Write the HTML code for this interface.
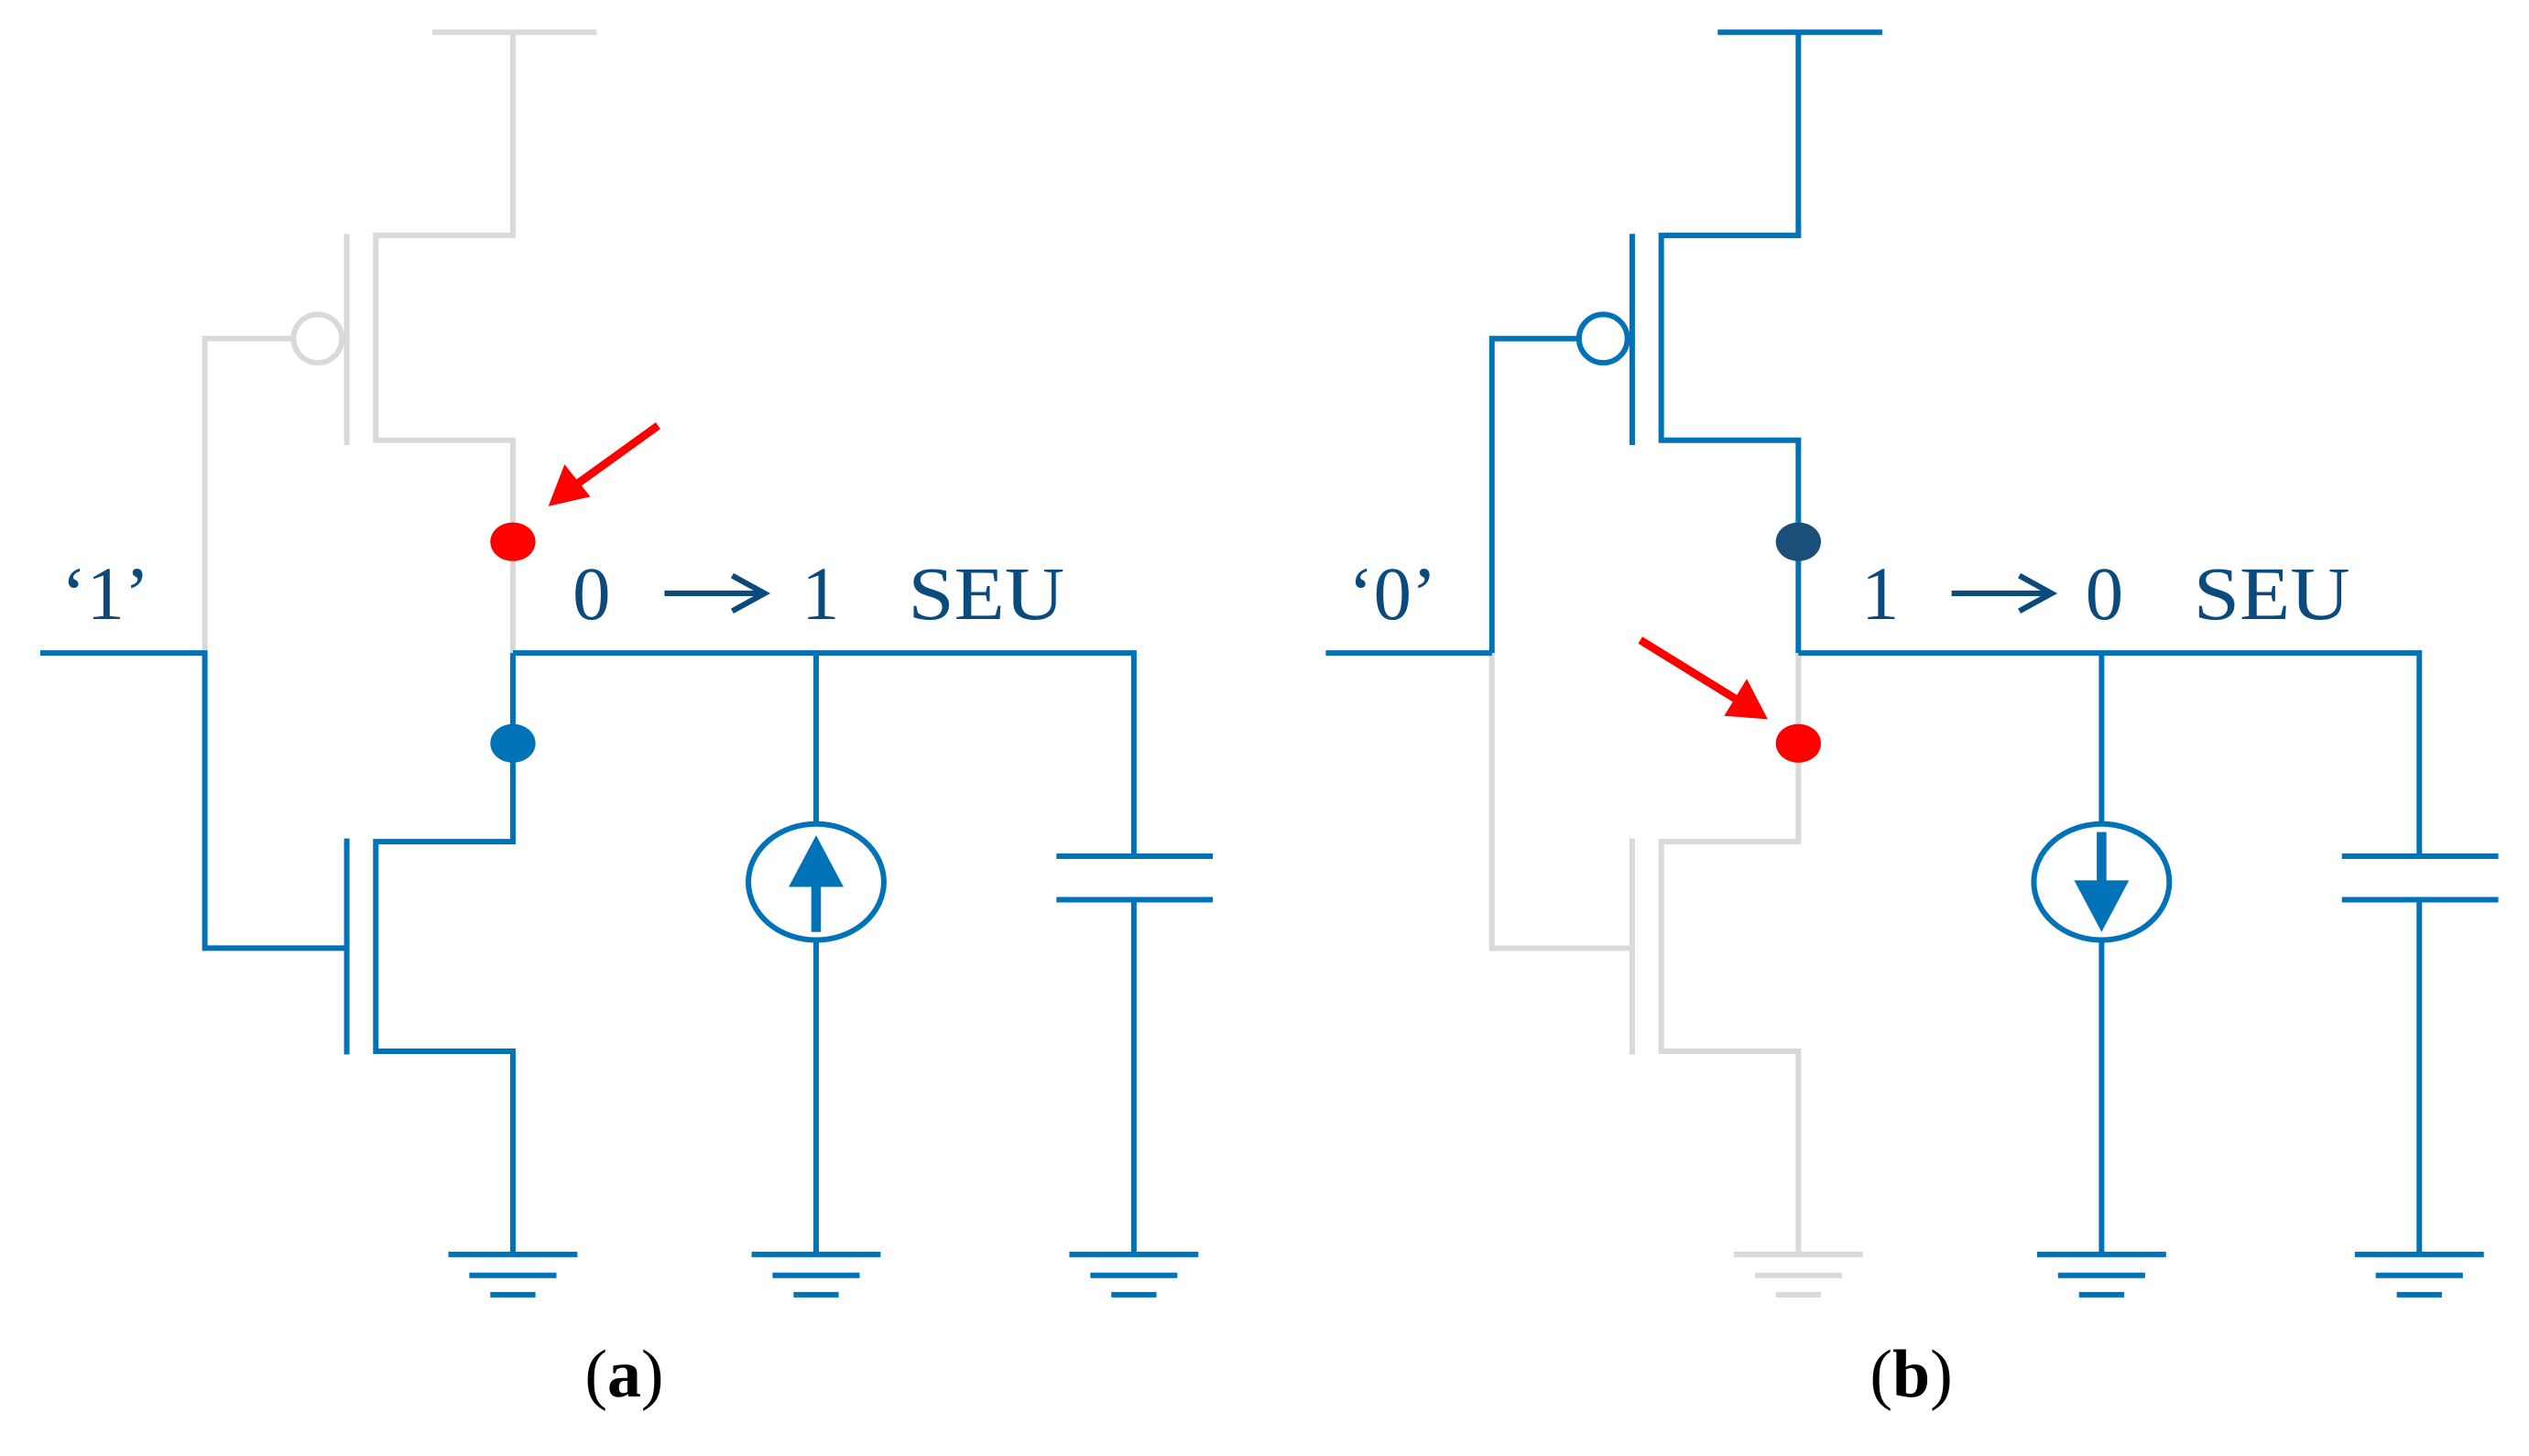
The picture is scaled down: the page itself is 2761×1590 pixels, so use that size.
<!DOCTYPE html>
<html><head><style>html,body{margin:0;padding:0;background:#fff;}svg{display:block;}</style></head>
<body>
<svg width="2761" height="1590" viewBox="0 0 1568 903" preserveAspectRatio="none" xmlns="http://www.w3.org/2000/svg">
<defs>
<g id="gnd"><line x1="-40" y1="0" x2="40" y2="0"/><line x1="-27" y1="13" x2="27" y2="13"/><line x1="-14" y1="25" x2="14" y2="25"/></g>
</defs>
<g fill="none" stroke-width="3.4">
<!-- Panel a -->
<g stroke="#d9d9d9">
<polyline points="268,20 370,20"/>
<polyline points="318,20 318,146 233,146 233,273 318,273 318,405"/>
<line x1="215" y1="145" x2="215" y2="276"/>
<circle cx="197" cy="210" r="15"/>
<polyline points="182,210 127,210 127,405"/>
</g>
<g stroke="#0072b8">
<polyline points="25,405 127,405 127,588 215,588"/>
<line x1="215" y1="520" x2="215" y2="654"/>
<polyline points="318,405 318,522 233,522 233,652 318,652 318,778"/>
<use href="#gnd" x="318" y="778"/>
<polyline points="318,405 703,405 703,530"/>
<line x1="506" y1="405" x2="506" y2="778"/>
<use href="#gnd" x="506" y="778"/>
<ellipse cx="506" cy="547" rx="42" ry="36" fill="#fff"/>
<line x1="506" y1="540" x2="506" y2="578" stroke-width="6"/>
<line x1="655" y1="531" x2="752" y2="531"/>
<line x1="655" y1="558" x2="752" y2="558"/>
<line x1="703" y1="558" x2="703" y2="778"/>
<use href="#gnd" x="703" y="778"/>
</g>
<!-- Panel b -->
<g stroke="#d9d9d9">
<polyline points="925,405 925,588 1012,588"/>
<line x1="1012" y1="520" x2="1012" y2="654"/>
<polyline points="1115,405 1115,522 1030,522 1030,652 1115,652 1115,778"/>
<use href="#gnd" x="1115" y="778"/>
</g>
<g stroke="#0072b8">
<polyline points="1065,20 1167,20"/>
<polyline points="1115,20 1115,146 1030,146 1030,273 1115,273 1115,405"/>
<line x1="1012" y1="145" x2="1012" y2="276"/>
<circle cx="994" cy="210" r="15" fill="#fff"/>
<polyline points="979,210 925,210 925,405"/>
<polyline points="822,405 925,405"/>
<polyline points="1115,405 1500,405 1500,530"/>
<line x1="1303" y1="405" x2="1303" y2="778"/>
<use href="#gnd" x="1303" y="778"/>
<ellipse cx="1303" cy="547" rx="42" ry="36" fill="#fff"/>
<line x1="1303" y1="516" x2="1303" y2="555" stroke-width="6"/>
<line x1="1452" y1="531" x2="1549" y2="531"/>
<line x1="1452" y1="558" x2="1549" y2="558"/>
<line x1="1500" y1="558" x2="1500" y2="778"/>
<use href="#gnd" x="1500" y="778"/>
</g>
</g>
<polygon points="506,518 489,550 523,550" fill="#0072b8"/>
<polygon points="1303,578 1286,546 1320,546" fill="#0072b8"/>
<ellipse cx="318" cy="336" rx="14" ry="12" fill="#ff0000"/>
<ellipse cx="318" cy="461" rx="14" ry="12" fill="#0072b8"/>
<ellipse cx="1115" cy="336" rx="14" ry="12" fill="#1a4f7a"/>
<ellipse cx="1115" cy="461" rx="14" ry="12" fill="#ff0000"/>
<line x1="408" y1="264" x2="358" y2="300" stroke="#ff0000" stroke-width="5"/>
<polygon points="340,314 350,288 366,308" fill="#ff0000"/>
<line x1="1017" y1="397" x2="1077" y2="434" stroke="#ff0000" stroke-width="5"/>
<polygon points="1096,446 1069,444 1083,421" fill="#ff0000"/>
<g font-family="'Liberation Serif', serif" font-size="47" fill="#0a4a7c">
<text x="38" y="384">‘1’</text>
<text x="355" y="384">0</text>
<text x="497" y="384">1</text>
<text x="563" y="384" textLength="97" lengthAdjust="spacingAndGlyphs">SEU</text>
<text x="836" y="384">‘0’</text>
<text x="1154" y="384">1</text>
<text x="1293" y="384">0</text>
<text x="1360" y="384" textLength="97" lengthAdjust="spacingAndGlyphs">SEU</text>
</g>
<g stroke="#0a4a7c" stroke-width="3.5" fill="none">
<line x1="412" y1="368" x2="472" y2="368"/><polyline points="454,357 474,368 454,379"/>
<line x1="1210" y1="368" x2="1270" y2="368"/><polyline points="1252,357 1272,368 1252,379"/>
</g>
<g font-family="'Liberation Serif', serif" font-size="42" fill="#000">
<text x="387" y="866" text-anchor="middle">(<tspan font-weight="bold">a</tspan>)</text>
<text x="1185" y="866" text-anchor="middle">(<tspan font-weight="bold">b</tspan>)</text>
</g>
</svg>
</body></html>
